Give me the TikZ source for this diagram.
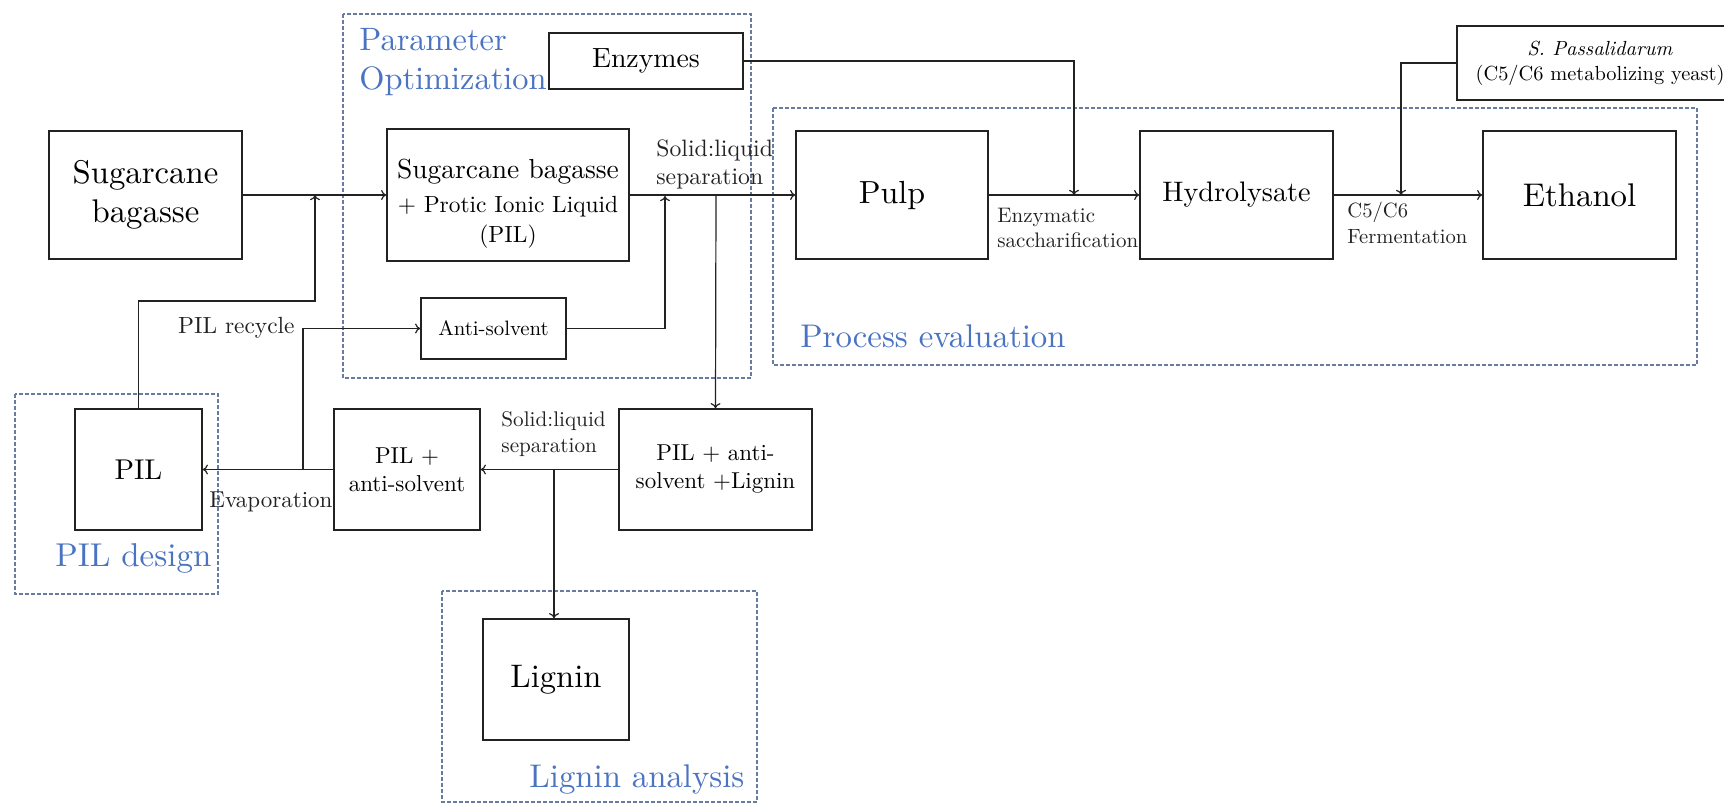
\documentclass[tikz,border=0pt]{standalone}
\usepackage{fontspec}
\setmainfont{lmroman10-regular.otf}[ItalicFont=lmroman10-italic.otf, BoldFont=lmroman10-bold.otf]
\usetikzlibrary{arrows.meta}
\definecolor{lblue}{HTML}{4A73C2}
\definecolor{dashc}{HTML}{6A7BA2}
\definecolor{ink}{HTML}{222222}
\begin{document}
\begin{tikzpicture}[x=0.5pt,y=-0.5pt,
  box/.style={draw=ink, line width=0.7pt, inner sep=0pt, align=center},
  group/.style={draw=dashc, line width=0.55pt, dash pattern=on 1.8pt off 1.2pt},
  conn/.style={draw=ink, line width=0.6pt, -{To[length=2.6pt,width=5pt]}},
  glabel/.style={text=lblue, inner sep=0pt, align=left},
  lab/.style={inner sep=0pt, align=left, text=ink}]
\useasboundingbox (0,0) rectangle (1724,803);
\clip (0,0) rectangle (1724,803);

% group frames
\draw[group] (343,14) rectangle (751,378);
\draw[group] (773,108) rectangle (1697,365);
\draw[group] (15,394) rectangle (218,594);
\draw[group] (442,591) rectangle (757,802);

\node[glabel, anchor=north west, font=\fontsize{16.2}{19.5}\selectfont] (gpo) at (359,28) {Parameter\\Optimization};
\node[glabel, anchor=base west, font=\fontsize{16.4}{19.5}\selectfont] (gpe) at (800,347) {Process evaluation};
\node[glabel, anchor=base west, font=\fontsize{16.5}{19.5}\selectfont] (gpd) at (55,566) {PIL design};
\node[glabel, anchor=base west, font=\fontsize{16.4}{19.5}\selectfont] (gla) at (529,787) {Lignin analysis};

% boxes
\node[box, minimum width=96.5pt, minimum height=64pt, font=\fontsize{16.4}{19.5}\selectfont] (sb) at (145.5,195) {Sugarcane\\bagasse};
\node[box, minimum width=121pt, minimum height=66pt, font=\fontsize{11.7}{15}\selectfont] (mix) at (508,195)
  {{\fontsize{13.75}{16.5}\selectfont\rule{0pt}{18pt}Sugarcane bagasse}\\[2pt]+ Protic Ionic Liquid\\(PIL)};
\node[box, minimum width=97pt, minimum height=28pt, font=\fontsize{13.9}{16.5}\selectfont] (enz) at (646,61) {Enzymes};
\node[box, minimum width=72.5pt, minimum height=30.5pt, font=\fontsize{10.4}{12.5}\selectfont] (anti) at (493.5,328.5) {Anti-solvent};
\node[box, minimum width=96pt, minimum height=64pt, font=\fontsize{16}{19.5}\selectfont] (pulp) at (892,195) {Pulp};
\node[box, minimum width=96.5pt, minimum height=64pt, font=\fontsize{14.1}{17}\selectfont] (hyd) at (1236.5,195) {Hydrolysate};
\node[box, minimum width=96.5pt, minimum height=64pt, font=\fontsize{16.4}{19.5}\selectfont] (eth) at (1579.5,195) {Ethanol};
\node[box, minimum width=143pt, minimum height=37pt, font=\fontsize{10.2}{12.4}\selectfont] (yeast) at (1600,63) {\textit{S. Passalidarum}\\(C5/C6 metabolizing yeast)};
\node[box, minimum width=63.5pt, minimum height=60.5pt, font=\fontsize{14.3}{17}\selectfont] (pil) at (138.5,469.5) {PIL};
\node[box, minimum width=73pt, minimum height=60.5pt, font=\fontsize{11.5}{14}\selectfont] (pilas) at (407,469.5) {PIL +\\anti-solvent};
\node[box, minimum width=96.5pt, minimum height=60.5pt, font=\fontsize{11.5}{14}\selectfont] (pilasl) at (715.5,469.5) {PIL + anti-\\solvent +Lignin};
\node[box, minimum width=73pt, minimum height=60.5pt, font=\fontsize{16.3}{19.5}\selectfont] (lig) at (556,679.5) {Lignin};

% connector labels
\node[lab, anchor=north west, font=\fontsize{11.85}{14}\selectfont] (l1) at (656,139) {Solid:liquid\\separation};
\node[lab, anchor=north west, font=\fontsize{10.5}{12.5}\selectfont] (l2) at (997,208) {Enzymatic\\saccharification};
\node[lab, anchor=north west, font=\fontsize{10.3}{13}\selectfont] (l3) at (1347,202) {C5/C6\\Fermentation};
\node[lab, anchor=north west, font=\fontsize{10.6}{13}\selectfont] (l4) at (501,411) {Solid:liquid\\separation};
\node[lab, anchor=base east, font=\fontsize{11.7}{14}\selectfont] (l5) at (295,333) {PIL recycle};
\node[lab, anchor=base west, font=\fontsize{11.5}{14}\selectfont] (l6) at (209,507) {Evaporation};

% junction coordinates
\coordinate (j1) at (315,195);
\coordinate (r1) at (315,301);
\coordinate (j2) at (303,470);
\coordinate (j3) at (665,196);
\coordinate (j4) at (716,195);
\coordinate (j5) at (1074,195);
\coordinate (j6) at (1401,195);
\coordinate (j7) at (554,470);

% connectors
\draw[conn] (sb.east) -- (mix.west);
\draw[conn] (pil.north) |- (r1) -- (j1);
\draw[conn] (pilas.west) -- (pil.east);
\draw[conn] (j2) |- (anti.west);
\draw[conn] (anti.east) -| (j3);
\draw[conn] (mix.east) -- (pulp.west);
\draw[conn] (j4) -- (pilasl.north);
\draw[conn] (enz.east) -| (j5);
\draw[conn] (pulp.east) -- (hyd.west);
\draw[conn] (hyd.east) -- (eth.west);
\draw[conn] (yeast.west) -| (j6);
\draw[conn] (pilasl.west) -- (pilas.east);
\draw[conn] (j7) -- (j7 |- lig.north);
\end{tikzpicture}
\end{document}
